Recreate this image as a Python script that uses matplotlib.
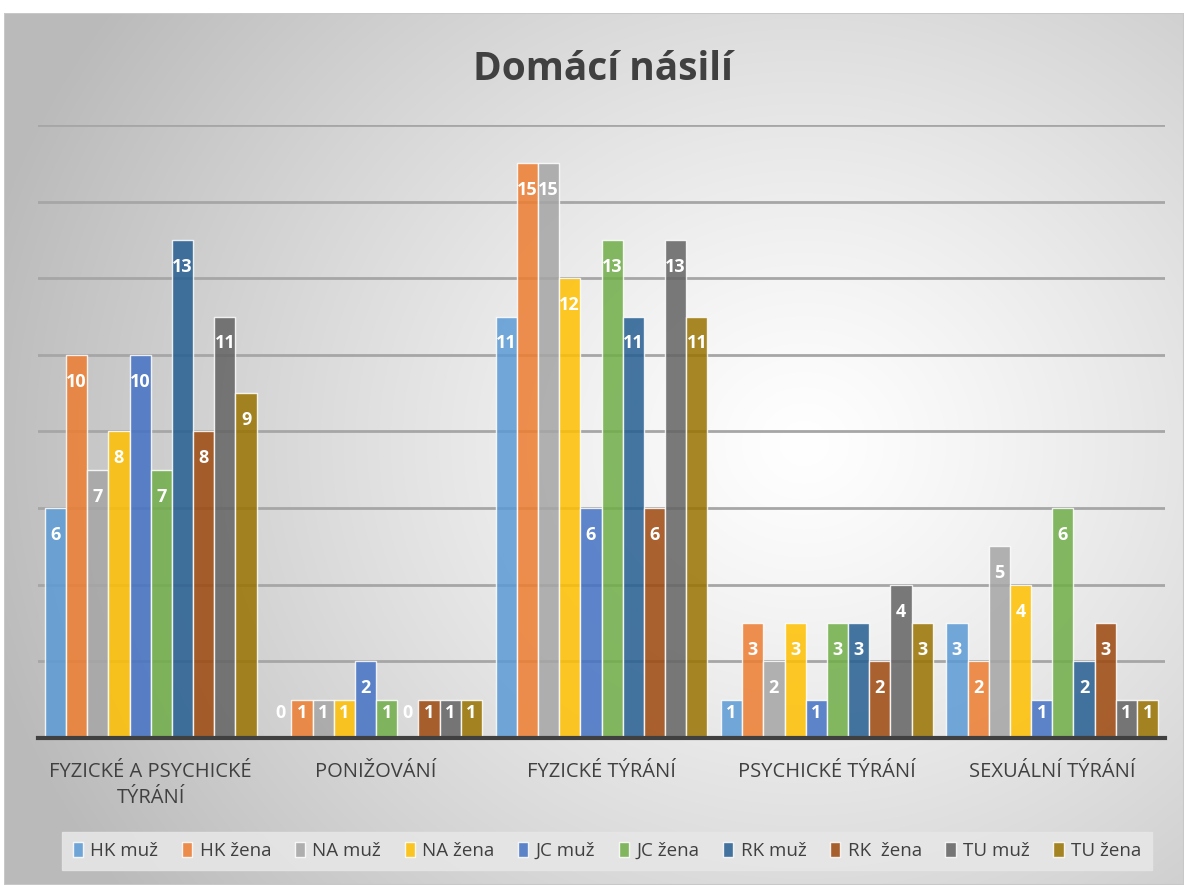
import numpy as np
import matplotlib
matplotlib.use("Agg")
import matplotlib.pyplot as plt
from matplotlib.patches import Rectangle

categories = ["FYZICKÉ A PSYCHICKÉ\nTÝRÁNÍ", "PONIŽOVÁNÍ", "FYZICKÉ TÝRÁNÍ",
              "PSYCHICKÉ TÝRÁNÍ", "SEXUÁLNÍ TÝRÁNÍ"]
series_names = ["HK muž", "HK žena", "NA muž", "NA žena", "JC muž",
                "JC žena", "RK muž", "RK  žena", "TU muž", "TU žena"]
hk_muz  = [6, 0, 11, 1, 3]
hk_zena = [10, 1, 15, 3, 2]
na_muz  = [7, 1, 15, 2, 5]
na_zena = [8, 1, 12, 3, 4]
jc_muz  = [10, 2, 6, 1, 1]
jc_zena = [7, 1, 13, 3, 6]
rk_muz  = [13, 0, 11, 3, 2]
rk_zena = [8, 1, 6, 2, 3]
tu_muz  = [11, 1, 13, 4, 1]
tu_zena = [9, 1, 11, 3, 1]
series_values = [hk_muz, hk_zena, na_muz, na_zena, jc_muz,
                 jc_zena, rk_muz, rk_zena, tu_muz, tu_zena]
colors = ["#5B9BD5", "#ED7D31", "#A5A5A5", "#FFC000", "#4472C4",
          "#70AD47", "#255E91", "#9E480E", "#636363", "#997300"]

plt.rcParams['font.family'] = ['Open Sans', 'DejaVu Sans']

W, H = 1184, 885
fig = plt.figure(figsize=(W / 100, H / 100), dpi=100)
fig.patch.set_facecolor("white")

# radial gradient background
bg = fig.add_axes([4 / W, 0, 1 - 4 / W, (H - 13) / H], zorder=0)
yy, xx = np.mgrid[0:872, 0:1180]
cx, cy = 800, 430
r = np.sqrt(((xx - cx) / 1.0) ** 2 + ((yy - cy) / 0.9) ** 2)
t = np.clip(r / 850, 0, 1) ** 1.2
c0 = np.array([1.0, 1.0, 1.0])
c1 = np.array([0.73, 0.73, 0.73])
img = c0[None, None, :] * (1 - t[..., None]) + c1[None, None, :] * t[..., None]
bg.imshow(img, aspect='auto', extent=[0, 1, 0, 1], origin='upper')
bg.set_axis_off()
bg.add_patch(Rectangle((0, 0), 1, 1, transform=bg.transAxes, fill=False,
                       edgecolor="#c8c8c8", lw=1.5))

ax = fig.add_axes([38 / W, (H - 738) / H, 1127 / W, 613 / H], zorder=1)
ax.patch.set_alpha(0)
x = np.arange(len(categories))
n = len(series_names)
bw = 0.094
for i, (name, vals, col) in enumerate(zip(series_names, series_values, colors)):
    pos = x + (i - (n - 1) / 2) * bw
    ax.bar(pos, vals, width=bw, color=col, alpha=0.85, edgecolor=(1, 1, 1, 0.6),
           linewidth=1.0, label=name, zorder=3)
    for p, v in zip(pos, vals):
        ax.text(p, max(v - 0.7, 0.65), str(v), ha='center', va='center',
                color='white', fontsize=13, fontweight='bold', zorder=4)

ax.set_xlim(-0.5, 4.5)
ax.set_ylim(0, 16)
ax.set_yticks(np.arange(0, 17, 2))
ax.yaxis.grid(True, color="#a6a6a6", lw=2, zorder=0)
ax.set_axisbelow(True)
ax.tick_params(axis='y', left=False, labelleft=False)
ax.tick_params(axis='x', bottom=False, pad=14)
ax.set_xticks(x)
ax.set_xticklabels(categories, fontsize=14.5, color="#404040", linespacing=1.35)
for s in ['top', 'right', 'left']:
    ax.spines[s].set_visible(False)
ax.spines['bottom'].set_color("#404040")
ax.spines['bottom'].set_linewidth(3)
ax.spines['bottom'].set_zorder(5)

fig.text(603 / W, 1 - 70 / H, "Domácí násilí", ha='center', va='center',
         fontsize=28, fontweight='bold', color="#404040")

handles, labels = ax.get_legend_handles_labels()
leg = fig.legend(handles, labels, loc='center', bbox_to_anchor=(607 / W, 1 - 851 / H),
                 ncol=10, frameon=True, fontsize=13.5, handlelength=0.55, handleheight=0.9,
                 handletextpad=0.4, columnspacing=1.25, borderpad=0.55)
leg.get_frame().set_facecolor("#e6e6e6")
leg.get_frame().set_edgecolor("#e6e6e6")
leg.get_frame().set_alpha(0.9)
leg.get_frame().set_boxstyle("square", pad=0.0)
for txt in leg.get_texts():
    txt.set_color("#404040")

fig.savefig("out.png", dpi=100)
